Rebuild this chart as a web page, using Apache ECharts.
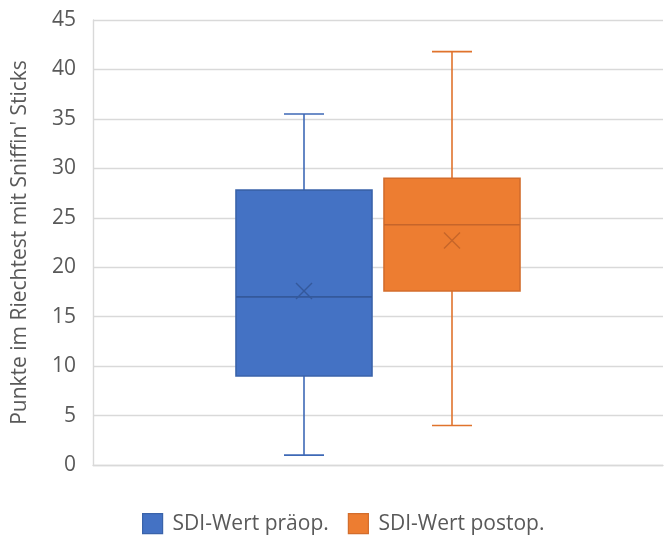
<!DOCTYPE html>
<html>
<head>
<meta charset="utf-8">
<script src="https://cdn.jsdelivr.net/npm/echarts@6/dist/echarts.min.js"></script>
<style>
  html, body { margin: 0; padding: 0; background: #ffffff; }
  #chart { width: 666px; height: 540px; }
</style>
</head>
<body>
<div id="chart"></div>
<script>
// Box plot of olfactory test scores (Sniffin' Sticks), before and after surgery
const categories = [''];
const seriesNames = ['SDI-Wert präop.', 'SDI-Wert postop.'];
// [min, Q1, median, Q3, max, mean]
const preopStats = [1.0, 9.0, 17.0, 27.8, 35.5, 17.6];
const postopStats = [4.0, 17.6, 24.3, 29.0, 41.8, 22.7];
const yTicks = [0, 5, 10, 15, 20, 25, 30, 35, 40, 45];

const FONT = '"Open Sans", sans-serif';
const TEXT_COLOR = '#595959';
const GRID_COLOR = '#D9D9D9';

const BOX_W = 136;
const CAP_W = 40;
const MEAN_HALF = 8;

const palette = [
  { fill: '#4472C4', whisker: '#3E69B6', border: '#3A63AA', median: '#34599B', offset: -74 },
  { fill: '#ED7D31', whisker: '#E0732C', border: '#D36D2C', median: '#C6652A', offset: 74 }
];

function makeRenderer(style) {
  return function (params, api) {
    const cat = api.value(0);
    const cx = api.coord([cat, 0])[0] + style.offset;
    const yAt = i => api.coord([cat, api.value(i)])[1];
    const yMin = yAt(1), yQ1 = yAt(2), yMed = yAt(3), yQ3 = yAt(4), yMax = yAt(5), yMean = yAt(6);
    const hb = BOX_W / 2, hc = CAP_W / 2;
    const ws = { stroke: style.whisker, lineWidth: 1.6 };
    return {
      type: 'group',
      children: [
        { type: 'line', shape: { x1: cx, y1: yQ3, x2: cx, y2: yMax }, style: ws },
        { type: 'line', shape: { x1: cx - hc, y1: yMax, x2: cx + hc, y2: yMax }, style: ws },
        { type: 'line', shape: { x1: cx, y1: yQ1, x2: cx, y2: yMin }, style: ws },
        { type: 'line', shape: { x1: cx - hc, y1: yMin, x2: cx + hc, y2: yMin }, style: ws },
        {
          type: 'rect',
          shape: { x: cx - hb, y: yQ3, width: BOX_W, height: yQ1 - yQ3 },
          style: { fill: style.fill, stroke: style.border, lineWidth: 1.6 }
        },
        { type: 'line', shape: { x1: cx - hb, y1: yMed, x2: cx + hb, y2: yMed }, style: { stroke: style.median, lineWidth: 1.6 } },
        { type: 'line', shape: { x1: cx - MEAN_HALF, y1: yMean - MEAN_HALF, x2: cx + MEAN_HALF, y2: yMean + MEAN_HALF }, style: { stroke: style.median, lineWidth: 1.4 } },
        { type: 'line', shape: { x1: cx - MEAN_HALF, y1: yMean + MEAN_HALF, x2: cx + MEAN_HALF, y2: yMean - MEAN_HALF }, style: { stroke: style.median, lineWidth: 1.4 } }
      ]
    };
  };
}

const allStats = [preopStats, postopStats];

const chart = echarts.init(document.getElementById('chart'), null, { renderer: 'canvas' });
chart.setOption({
  animation: false,
  backgroundColor: '#ffffff',
  textStyle: { fontFamily: FONT },
  grid: { left: 93, right: 3, top: 20, bottom: 75, containLabel: false },
  legend: {
    left: 142,
    top: 513,
    padding: 0,
    itemWidth: 20,
    itemHeight: 20,
    itemGap: 19,
    icon: 'rect',
    textStyle: { fontFamily: FONT, fontSize: 21, color: TEXT_COLOR, padding: [0, 0, 0, 5] },
    data: seriesNames.map((name, i) => ({
      name: name,
      itemStyle: { color: palette[i].fill, borderColor: palette[i].border, borderWidth: 1.2 }
    }))
  },
  xAxis: {
    type: 'category',
    data: categories,
    boundaryGap: true,
    axisLine: { show: true, lineStyle: { color: GRID_COLOR, width: 1.4 } },
    axisTick: { show: false },
    axisLabel: { show: false },
    splitLine: { show: false }
  },
  yAxis: {
    type: 'value',
    min: yTicks[0],
    max: yTicks[yTicks.length - 1],
    interval: yTicks[1] - yTicks[0],
    name: "Punkte im Riechtest mit Sniffin' Sticks",
    nameLocation: 'middle',
    nameGap: 62,
    nameRotate: 90,
    nameTextStyle: { fontFamily: FONT, fontSize: 21, color: TEXT_COLOR },
    axisLine: { show: true, lineStyle: { color: GRID_COLOR, width: 1.4 } },
    axisTick: { show: false },
    axisLabel: { margin: 17, fontFamily: FONT, fontSize: 21, color: TEXT_COLOR },
    splitLine: { show: true, lineStyle: { color: GRID_COLOR, width: 1.4 } }
  },
  series: seriesNames.map((name, i) => ({
    name: name,
    type: 'custom',
    itemStyle: { color: palette[i].fill },
    renderItem: makeRenderer(palette[i]),
    encode: { x: 0, y: [1, 2, 3, 4, 5, 6] },
    data: [[0].concat(allStats[i])]
  }))
});
</script>
</body>
</html>
